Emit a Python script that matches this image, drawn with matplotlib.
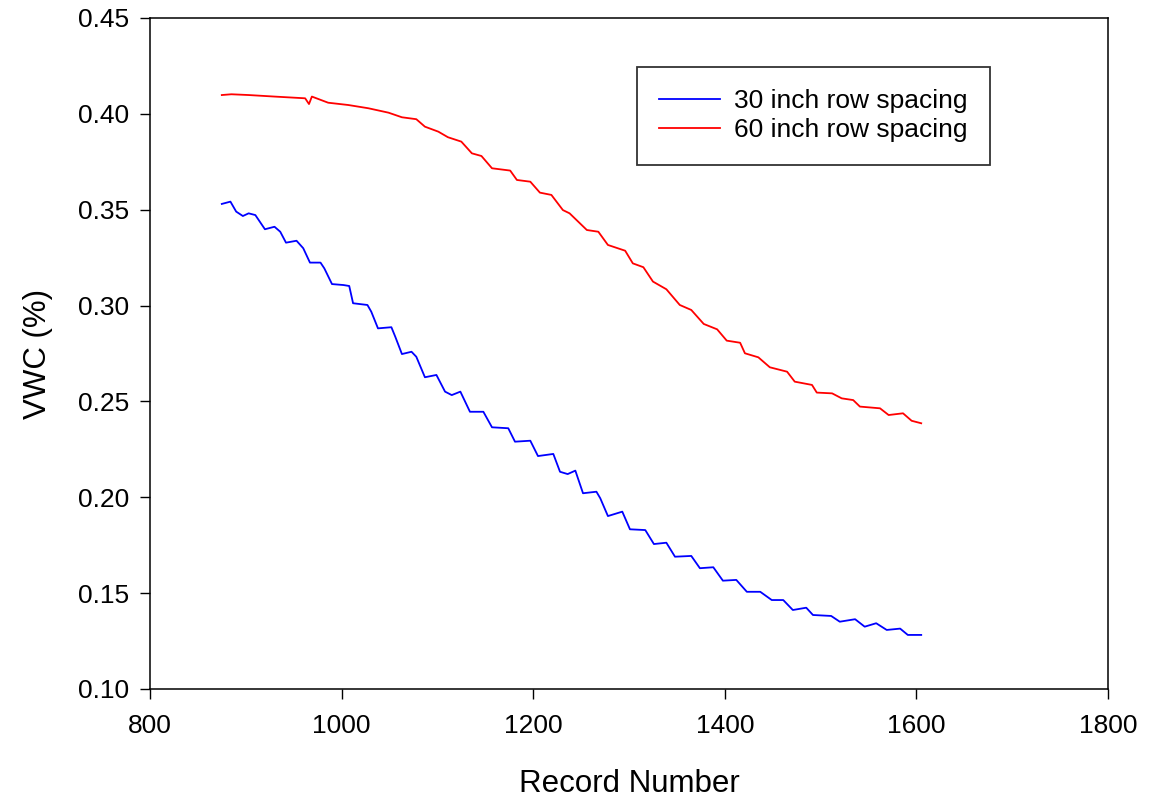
import numpy as np
import matplotlib
matplotlib.use("Agg")
import matplotlib.pyplot as plt

plt.rcParams['font.family'] = ['Liberation Sans', 'DejaVu Sans']

# values (record number, VWC)
rec_30 = [875, 884, 890, 897, 903, 910, 920, 930, 936, 942, 953, 960, 967, 978,
          982, 990, 1002, 1008, 1012, 1027, 1031, 1038, 1052, 1056, 1063, 1073,
          1078, 1087, 1099, 1108, 1115, 1124, 1134, 1148, 1157, 1174, 1181, 1197,
          1205, 1221, 1228, 1236, 1244, 1252, 1266, 1270, 1278, 1293, 1301, 1317,
          1326, 1339, 1348, 1365, 1374, 1388, 1398, 1412, 1423, 1437, 1449, 1461,
          1471, 1485, 1492, 1511, 1520, 1536, 1546, 1558, 1569, 1583, 1591, 1605]
vwc_30 = [0.3530, 0.3542, 0.3490, 0.3467, 0.3481, 0.3472, 0.3398, 0.3411, 0.3385,
          0.3328, 0.3338, 0.3299, 0.3224, 0.3224, 0.3194, 0.3112, 0.3107, 0.3102,
          0.3012, 0.3003, 0.2968, 0.2881, 0.2887, 0.2838, 0.2747, 0.2759, 0.2733,
          0.2626, 0.2638, 0.2551, 0.2533, 0.2551, 0.2446, 0.2446, 0.2365, 0.2360,
          0.2290, 0.2295, 0.2215, 0.2226, 0.2133, 0.2121, 0.2139, 0.2021, 0.2029,
          0.1995, 0.1902, 0.1925, 0.1833, 0.1829, 0.1756, 0.1763, 0.1690, 0.1694,
          0.1630, 0.1635, 0.1565, 0.1569, 0.1507, 0.1507, 0.1464, 0.1464, 0.1412,
          0.1424, 0.1386, 0.1381, 0.1351, 0.1364, 0.1325, 0.1343, 0.1308, 0.1315,
          0.1282, 0.1282]

rec_60 = [875, 885, 903, 930, 962, 966, 969, 986, 1007, 1028, 1049, 1063, 1078,
          1087, 1101, 1111, 1125, 1136, 1146, 1157, 1176, 1183, 1197, 1207, 1219,
          1231, 1238, 1256, 1268, 1278, 1296, 1304, 1315, 1325, 1339, 1353, 1365,
          1378, 1392, 1402, 1416, 1421, 1435, 1447, 1465, 1473, 1491, 1496, 1512,
          1522, 1534, 1541, 1562, 1571, 1586, 1595, 1605]
vwc_60 = [0.4098, 0.4102, 0.4098, 0.4090, 0.4081, 0.4051, 0.4090, 0.4058, 0.4046,
          0.4029, 0.4006, 0.3982, 0.3972, 0.3933, 0.3907, 0.3878, 0.3855, 0.3794,
          0.3780, 0.3716, 0.3704, 0.3655, 0.3646, 0.3589, 0.3577, 0.3498, 0.3481,
          0.3394, 0.3385, 0.3316, 0.3286, 0.3220, 0.3200, 0.3125, 0.3085, 0.3003,
          0.2977, 0.2904, 0.2876, 0.2817, 0.2806, 0.2751, 0.2730, 0.2678, 0.2655,
          0.2603, 0.2586, 0.2546, 0.2542, 0.2516, 0.2507, 0.2473, 0.2464, 0.2429,
          0.2438, 0.2399, 0.2386]

x_ticks = [800, 1000, 1200, 1400, 1600, 1800]
y_ticks = [0.10, 0.15, 0.20, 0.25, 0.30, 0.35, 0.40, 0.45]


def main():
    fig = plt.figure(figsize=(11.66, 8.02), dpi=100)
    ax = fig.add_axes([0.1286, 0.1409, 0.8217, 0.8367])

    ax.plot(rec_30, vwc_30, color='#0000ff', lw=1.3, label='30 inch row spacing')
    ax.plot(rec_60, vwc_60, color='#ff0000', lw=1.3, label='60 inch row spacing')

    ax.set_xlim(800, 1800)
    ax.set_ylim(0.10, 0.45)
    ax.set_xticks(x_ticks)
    ax.set_yticks(y_ticks)
    ax.set_yticklabels(['%.2f' % v for v in y_ticks])
    ax.tick_params(direction='out', length=7, width=1, labelsize=19,
                   top=False, right=False)
    ax.tick_params(axis='x', pad=11)
    ax.tick_params(axis='y', pad=8)
    for s in ax.spines.values():
        s.set_linewidth(1.1)

    ax.set_xlabel('Record Number', fontsize=22.5, labelpad=22)
    ax.set_ylabel('VWC (%)', fontsize=22.5, labelpad=18)

    leg = ax.legend(loc='upper left', bbox_to_anchor=(0.508, 0.927),
                    borderaxespad=0, fontsize=19, frameon=True, fancybox=False,
                    edgecolor='black', handlelength=2.3, handletextpad=0.55,
                    labelspacing=0.18, borderpad=0.85)
    leg.get_frame().set_linewidth(1.3)

    fig.savefig('out.png', dpi=100)


if __name__ == '__main__':
    main()
